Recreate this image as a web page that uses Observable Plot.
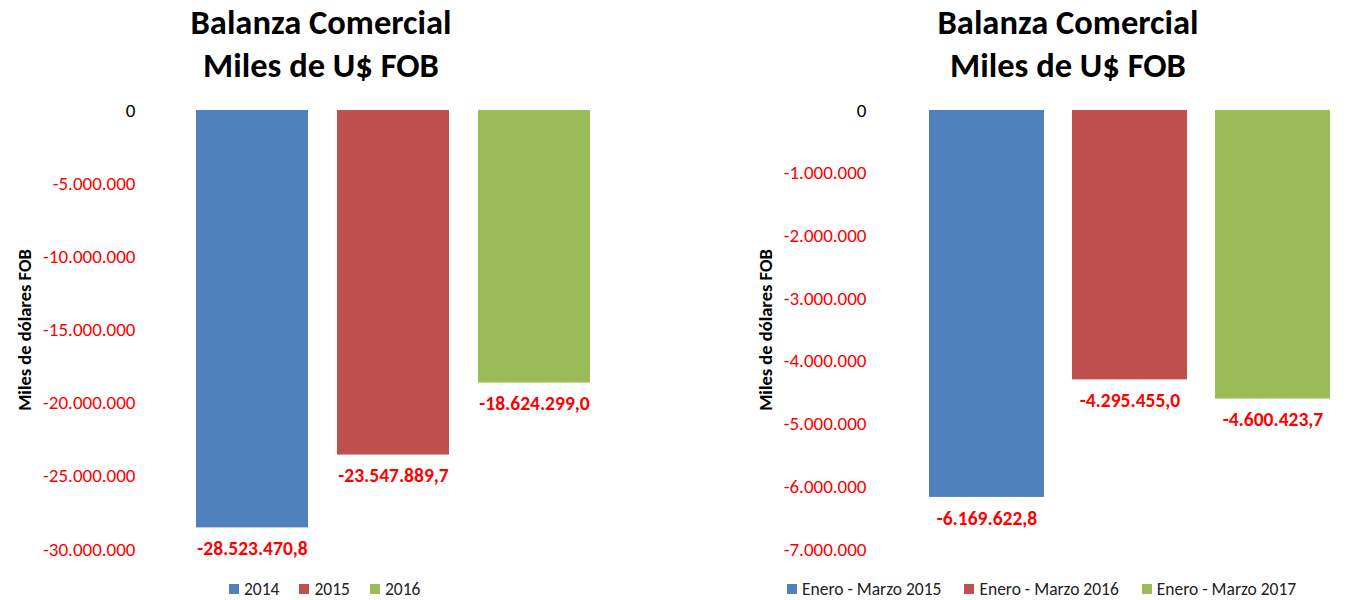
<!DOCTYPE html>
<html><head><meta charset="utf-8">
<script src="https://cdn.jsdelivr.net/npm/d3@7"></script>
<script src="https://cdn.jsdelivr.net/npm/@observablehq/plot@0.6"></script>
<style>
body{margin:0;background:#fff;font-family:Carlito,Lato,sans-serif;}
#wrap{position:relative;width:1348px;height:600px;overflow:hidden;background:#fff;}
.title{position:absolute;top:1px;text-align:center;font-weight:bold;font-size:34.5px;line-height:43px;color:#000;}
.panel{position:absolute;top:100px;}
.legend{position:absolute;top:578px;display:flex;align-items:center;font-size:17.5px;color:#222;}
.legend .item{display:flex;align-items:center;}
.legend .sw{width:10px;height:10px;margin-right:5px;}
</style></head>
<body><div id="wrap"></div>
<script>
const titleLines = ["Balanza Comercial", "Miles de U$ FOB"];
const yLabel = "Miles de dólares FOB";
const colors = ["#4F81BD", "#C0504D", "#9BBB59"];

const leftCategories = ["2014", "2015", "2016"];
const leftValues = [-28523470.8, -23547889.7, -18624299.0];
const leftTicks = [0, -5000000, -10000000, -15000000, -20000000, -25000000, -30000000];

const rightCategories = ["Enero - Marzo 2015", "Enero - Marzo 2016", "Enero - Marzo 2017"];
const rightValues = [-6169622.8, -4295455.0, -4600423.7];
const rightTicks = [0, -1000000, -2000000, -3000000, -4000000, -5000000, -6000000, -7000000];

const loc = d3.formatLocale({decimal: ",", thousands: ".", grouping: [3], currency: ["$", ""], minus: "-"});
const fmtTick = loc.format(",.0f");
const fmtVal = loc.format(",.1f");

const wrap = document.getElementById("wrap");

function panel(cfg) {
  const data = cfg.categories.map((c, i) => ({cat: c, value: cfg.values[i]}));
  const t = document.createElement("div");
  t.className = "title";
  t.style.left = cfg.titleLeft + "px";
  t.style.width = cfg.titleWidth + "px";
  t.innerHTML = titleLines.join("<br>");
  wrap.appendChild(t);

  const chart = Plot.plot({
    width: cfg.width,
    height: 470,
    marginTop: 10,
    marginBottom: 21,
    marginLeft: cfg.marginLeft,
    marginRight: cfg.marginRight,
    style: {fontFamily: "Carlito, Lato, sans-serif", fontSize: "19px", background: "white", overflow: "visible"},
    x: {domain: cfg.categories, paddingInner: cfg.pad, paddingOuter: 0, axis: null},
    y: {domain: [cfg.ticks[cfg.ticks.length - 1], 0]},
    color: {domain: cfg.categories, range: colors},
    marks: [
      Plot.barY(data, {x: "cat", y: "value", fill: "cat"}),
      Plot.text(data, {x: "cat", y: "value", text: d => fmtVal(d.value), dy: 21, fill: "#FF0000", fontWeight: "bold", fontSize: 19.5}),
      Plot.axisY(cfg.ticks, {tickSize: 0, tickPadding: cfg.tickPadding, tickFormat: fmtTick, fontSize: 19,
        fill: d => d === 0 ? "#000" : "#FF0000", label: null}),
      Plot.text([yLabel], {frameAnchor: "left", textAnchor: "middle", rotate: -90, dx: cfg.labelDx, fontWeight: "bold", fontSize: 18.5, fill: "#000"})
    ]
  });
  const holder = document.createElement("div");
  holder.className = "panel";
  holder.style.left = cfg.left + "px";
  holder.appendChild(chart);
  wrap.appendChild(holder);

  const lg = document.createElement("div");
  lg.className = "legend";
  lg.style.left = cfg.legendLeft + "px";
  cfg.categories.forEach((c, i) => {
    const it = document.createElement("div");
    it.className = "item";
    it.style.marginRight = cfg.legendGap + "px";
    it.innerHTML = `<div class="sw" style="background:${colors[i]}"></div><span>${c}</span>`;
    lg.appendChild(it);
  });
  wrap.appendChild(lg);
}

panel({categories: leftCategories, values: leftValues, ticks: leftTicks, left: 0, width: 674,
  marginLeft: 195, marginRight: 84, pad: 0.206, tickPadding: 60, labelDx: -170,
  titleLeft: 0, titleWidth: 642, legendLeft: 229, legendGap: 20});
panel({categories: rightCategories, values: rightValues, ticks: rightTicks, left: 700, width: 648,
  marginLeft: 228, marginRight: 16, pad: 0.194, tickPadding: 62, labelDx: -162,
  titleLeft: 788, titleWidth: 560, legendLeft: 787, legendGap: 23});
</script>
</body></html>
